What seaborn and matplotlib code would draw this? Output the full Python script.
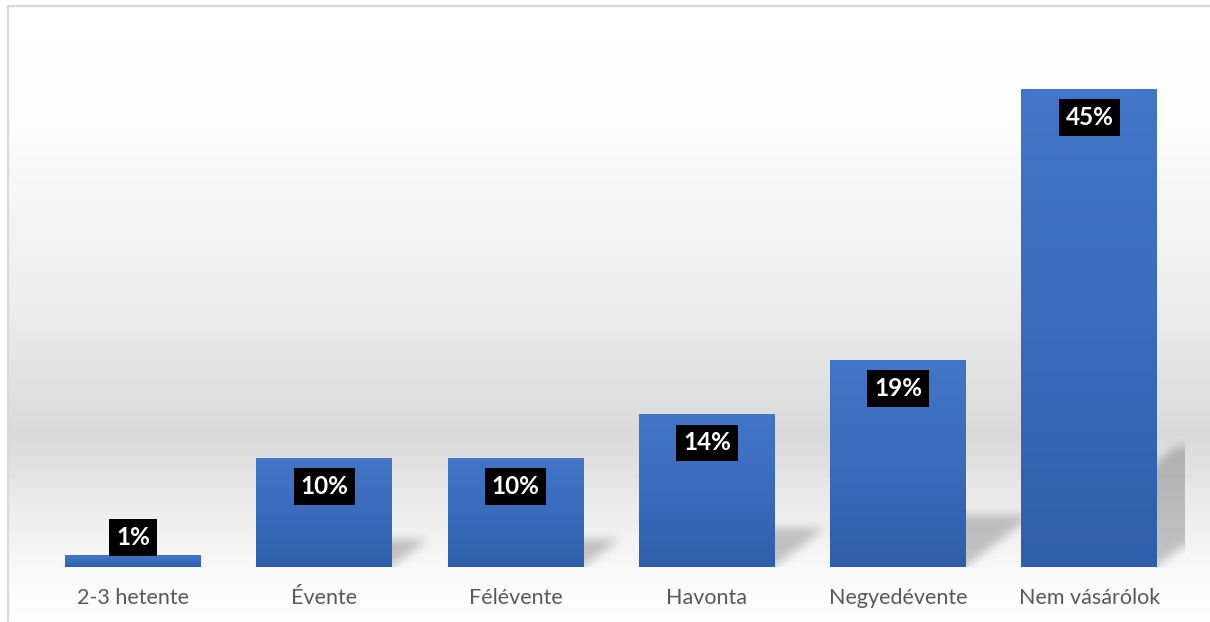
import numpy as np
import pandas as pd
import matplotlib
matplotlib.use("Agg")
import matplotlib.pyplot as plt
import seaborn as sns
from matplotlib.path import Path
from matplotlib.colors import LinearSegmentedColormap

# ---- data ----
categories = ["2-3 hetente", "Évente", "Félévente", "Havonta", "Negyedévente", "Nem vásárólok"]
values = [1.1, 10.2, 10.2, 14.3, 19.4, 44.8]

sns.set_theme(style="white")
plt.rcParams["font.family"] = ["Lato", "DejaVu Sans"]

W, H = 1210, 622
fig = plt.figure(figsize=(W / 100, H / 100), dpi=100)

# ---- background gradient + frame ----
bg = fig.add_axes([0, 0, 1, 1], zorder=0)
yy = np.arange(H)
stops_y = [0, 120, 300, 435, 500, 567, 622]
stops_v = [255, 252, 237, 217, 234, 248, 254]
col = np.interp(yy, stops_y, stops_v) / 255.0
img = np.repeat(col[:, None], W, axis=1)
img[:6, :] = 1.0
img[:, :8] = 1.0
bg.imshow(img, cmap="gray", vmin=0, vmax=1, extent=[0, W, H, 0],
          aspect="auto", interpolation="bilinear")
bg.plot([7.5, 7.5], [5.5, H], color="#D9D9D9", lw=1.6)
bg.plot([7.5, W], [5.5, 5.5], color="#D9D9D9", lw=1.6)
bg.set_xlim(0, W)
bg.set_ylim(H, 0)
bg.axis("off")

# ---- main axes ----
ax_l, ax_r, ax_base, ax_top = 37.4, 1185.0, 567.0, 33.5
ax = fig.add_axes([ax_l / W, (H - ax_base) / H, (ax_r - ax_l) / W, (ax_base - ax_top) / H], zorder=2)
ax.patch.set_alpha(0)

df = pd.DataFrame({"cat": categories, "val": values})
sns.barplot(data=df, x="cat", y="val", color="#4472C4", saturation=1, width=0.71,
            linewidth=0, edgecolor="none", ax=ax)

YMAX = 50
XL, XR = -0.5, len(categories) - 0.5

# gradient fill for bars
grad = LinearSegmentedColormap.from_list("bar", ["#2F5FA9", "#3A6BBC", "#4376C8"])
for p in ax.patches:
    x0, w, h = p.get_x(), p.get_width(), p.get_height()
    g = np.linspace(0, 1, 256)[:, None]
    im = ax.imshow(g, cmap=grad, extent=[x0, x0 + w, 0, h], origin="lower",
                   aspect="auto", zorder=p.get_zorder() + 0.1, interpolation="bilinear")
    im.set_clip_path(p)

ax.set_xlim(XL, XR)
ax.set_ylim(0, YMAX)

# ---- soft shadows (computed from bar geometry) ----
axw_px = ax_r - ax_l
axh_px = ax_base - ax_top
ppu_y = axh_px / YMAX
ppu_x = axw_px / (XR - XL)
nx, ny = int(axw_px), int(axh_px)
gx = np.linspace(XL, XR, nx)
gy = np.linspace(0, YMAX, ny)
GX, GY = np.meshgrid(gx, gy)
pts = np.column_stack([GX.ravel(), GY.ravel()])
mask = np.zeros(GX.size)
for p in ax.patches:
    x0, w, h = p.get_x(), p.get_width(), p.get_height()
    hs = 0.25 * h
    dx = 1.3 * hs * ppu_y / ppu_x
    poly = Path([(x0, 0), (x0 + w, 0), (x0 + w + dx, hs), (x0 + dx, hs), (x0, 0)])
    mask = np.maximum(mask, poly.contains_points(pts).astype(float))
mask = mask.reshape(ny, nx)


def blur1d(a, r, axis):
    a = np.moveaxis(a, axis, -1)
    pad = np.pad(a, [(0, 0)] * (a.ndim - 1) + [(r + 1, r)], mode="edge")
    c = np.cumsum(pad, axis=-1)
    out = (c[..., 2 * r + 1:] - c[..., :-2 * r - 1]) / (2 * r + 1)
    return np.moveaxis(out, -1, axis)


for _ in range(3):
    mask = blur1d(mask, 4, 0)
    mask = blur1d(mask, 4, 1)
shadow = np.zeros((ny, nx, 4))
shadow[..., 3] = mask * 0.21
ax.imshow(shadow, extent=[XL, XR, 0, YMAX], origin="lower", aspect="auto",
          zorder=0.5, interpolation="bilinear")
ax.set_xlim(XL, XR)
ax.set_ylim(0, YMAX)

# ---- data labels ----
for p, v in zip(ax.patches, values):
    xc = p.get_x() + p.get_width() / 2
    top = p.get_height()
    yc = max(top - 28.5 / ppu_y, 29.5 / ppu_y)
    ax.text(xc, yc, f"{v:.0f}%", ha="center", va="center", color="white",
            fontsize=17.5, fontweight="bold", zorder=5,
            bbox=dict(boxstyle="square,pad=0.28", fc="black", ec="none"))

# ---- axes styling ----
for s in ax.spines.values():
    s.set_visible(False)
ax.set_yticks([])
ax.set_xlabel("")
ax.set_ylabel("")
ax.tick_params(axis="x", length=0, pad=15, labelsize=15.5, labelcolor="#595959")
ax.grid(False)

fig.savefig("out.png", dpi=100)
